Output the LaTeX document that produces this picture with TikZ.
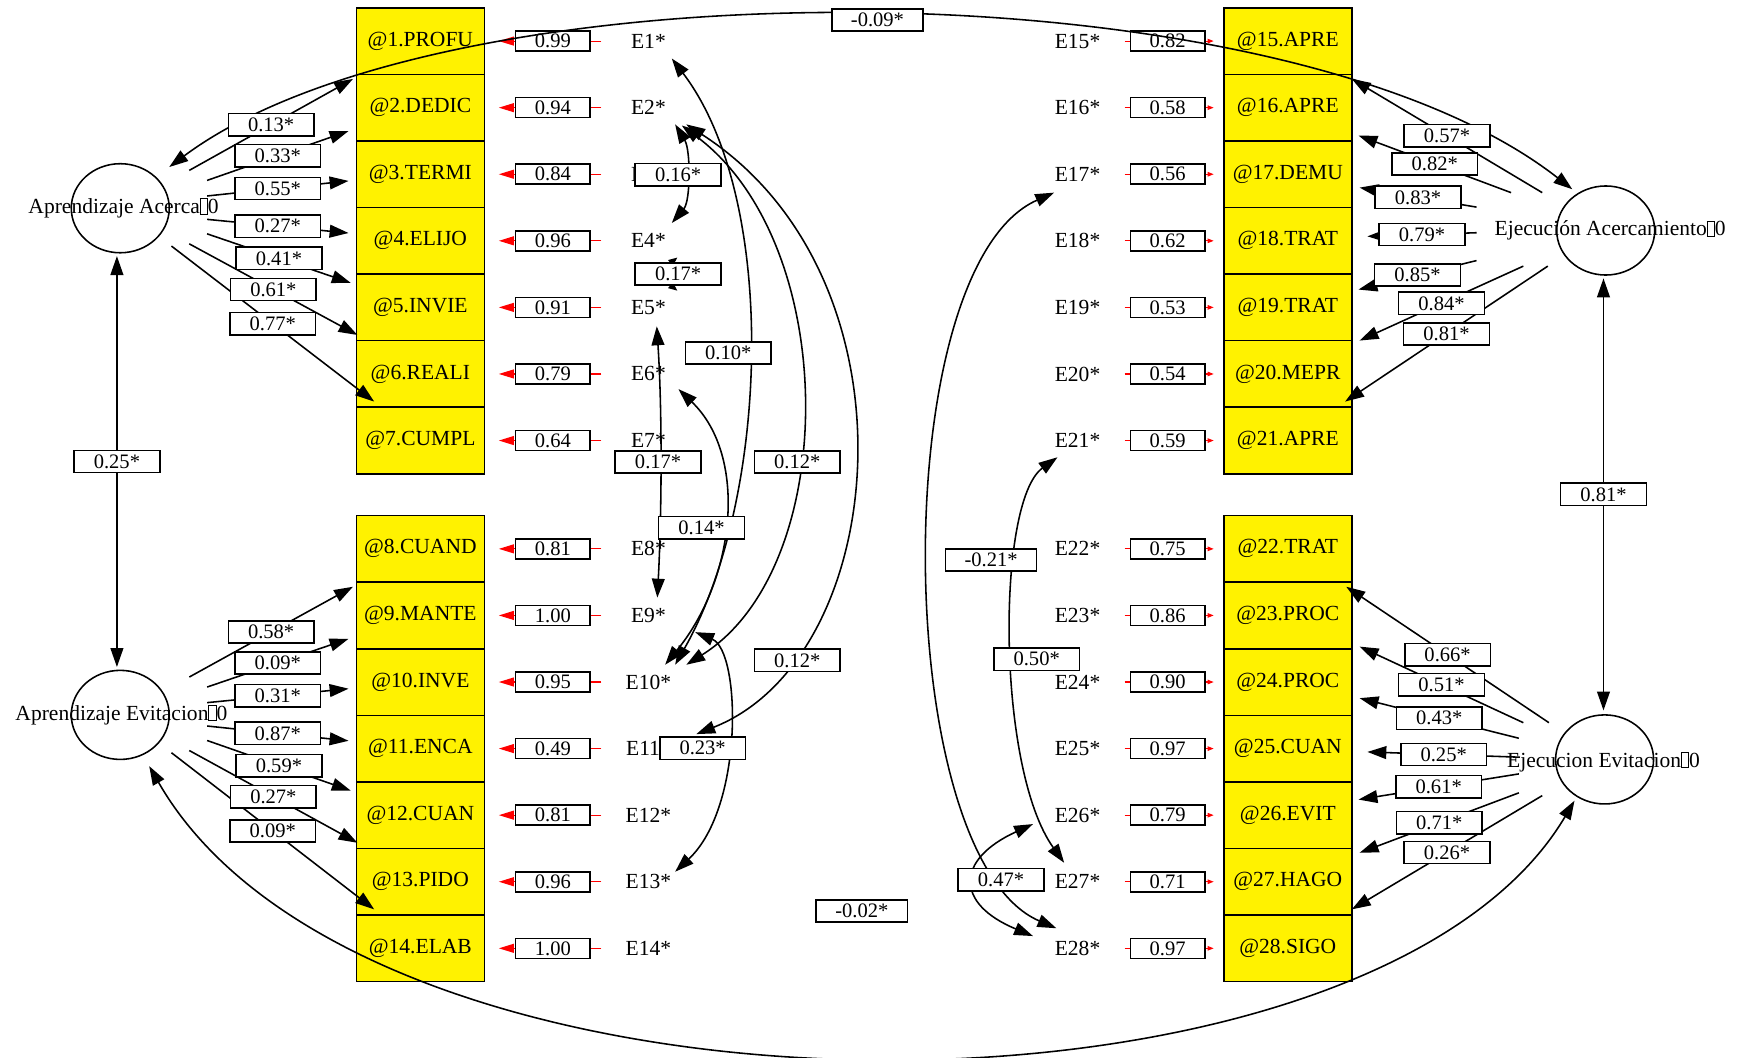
\documentclass[tikz,border=0pt]{standalone}
\usepackage{fontspec}
\setmainfont{Liberation Serif}
\usetikzlibrary{arrows.meta,positioning,shapes.geometric,calc}
\newcommand{\tofu}{{\fboxsep=0pt\fboxrule=0.4pt\fbox{\rule{0pt}{0.68em}\hspace{0.3em}}}}

\begin{document}
\begin{tikzpicture}[
    x=0.02cm, y=-0.02cm,
    every node/.style={font=\fontsize{11}{13}\selectfont},
    item/.style={draw, fill=yellow, line width=0.8pt, outer sep=0pt,
      minimum width=2.3cm, minimum height=1.196cm, inner sep=0pt},
    ename/.style={minimum width=1.68cm, inner sep=0pt},
    latent/.style={draw, ellipse, line width=0.8pt,
      minimum width=1.76cm, minimum height=1.6cm, inner sep=0pt},
    val/.style={draw=black, text=black, fill=white, line width=0.8pt,
      minimum width=1.34cm, minimum height=0.36cm, inner sep=0pt, font=\fontsize{10.5}{12}\selectfont},
    lbl/.style={draw, fill=white, line width=0.8pt,
      minimum width=1.54cm, minimum height=0.4cm, inner sep=0pt, font=\fontsize{10.5}{12}\selectfont},
    arr/.style={-{Triangle[length=3.4mm,width=2.3mm]}, line width=0.8pt},
    dbl/.style={{Triangle[length=3.4mm,width=2.3mm]}-{Triangle[length=3.4mm,width=2.3mm]}, line width=0.8pt},
    errl/.style={red, line width=0.6pt, -{Triangle[length=2.7mm,width=1.6mm]}, shorten >=0.26cm},
    errr/.style={red, line width=0.6pt, -{Triangle[length=1.1mm,width=0.8mm]}, shorten >=0.18cm}
  ]
    \useasboundingbox (0,0) rectangle (1568,950);

    \node[latent] (AA) at (108,187) {};
    \node (AAt) at (111,187) {Aprendizaje Acerca\tofu0};
    \node[latent] (AE) at (108,642) {};
    \node (AEt) at (109,642) {Aprendizaje Evitacion\tofu0};
    \node[latent] (EA) at (1442,207) {};
    \node (EAt) at (1446,207) {Ejecución Acercamiento\tofu0};
    \node[latent] (EE) at (1441,682) {};
    \node (EEt) at (1440,684) {Ejecucion Evitacion\tofu0};

    \node[item] (b1) at (377.5,36.9) {@1.PROFU};
    \foreach \t [count=\i from 2, remember=\i as \j (initially 1)] in
      {@2.DEDIC,@3.TERMI,@4.ELIJO,@5.INVIE,@6.REALI,@7.CUMPL}
      \node[item, below=0pt of b\j] (b\i) {\t};
    \node[item] (b8) at (377.5,492.9) {@8.CUAND};
    \foreach \t [count=\i from 9, remember=\i as \j (initially 8)] in
      {@9.MANTE,@10.INVE,@11.ENCA,@12.CUAN,@13.PIDO,@14.ELAB}
      \node[item, below=0pt of b\j] (b\i) {\t};
    \node[item] (b15) at (1156.5,36.9) {@15.APRE};
    \foreach \t [count=\i from 16, remember=\i as \j (initially 15)] in
      {@16.APRE,@17.DEMU,@18.TRAT,@19.TRAT,@20.MEPR,@21.APRE}
      \node[item, below=0pt of b\j] (b\i) {\t};
    \node[item] (b22) at (1156.5,492.9) {@22.TRAT};
    \foreach \t [count=\i from 23, remember=\i as \j (initially 22)] in
      {@23.PROC,@24.PROC,@25.CUAN,@26.EVIT,@27.HAGO,@28.SIGO}
      \node[item, below=0pt of b\j] (b\i) {\t};

    \foreach \i/\v in {1/0.99,2/0.94,3/0.84,4/0.96,5/0.91,6/0.79,7/0.64,
        8/0.81,9/1.00,10/0.95,11/0.49,12/0.81,13/0.96,14/1.00} {
      \node[ename, right=2.1cm of b\i] (e\i) {E\i*};
      \draw[errl] (e\i.west) -- node[val, pos=0.414] {\v} (b\i.east);
    }
    \foreach \i/\v in {15/0.82,16/0.58,17/0.56,18/0.62,19/0.53,20/0.54,21/0.59,
        22/0.75,23/0.86,24/0.90,25/0.97,26/0.79,27/0.71,28/0.97} {
      \node[ename, left=1.78cm of b\i] (e\i) {E\i*};
      \draw[errr] (e\i.east) -- node[val, pos=0.433] {\v} (b\i.west);
    }

    \foreach \n/\L/\s/\t in {1/AA/{62,-34}/{-3,34}, 2/AA/{78,-25}/{-7,21}, 3/AA/{78,-11}/{-7,6},
        4/AA/{78,10}/{-7,-7}, 5/AA/{78,23}/{-5,-22}, 6/AA/{62,32}/{1,-35}, 7/AA/{46,34}/{16,-35},
        8/AE/{62,-34}/{-3,34}, 9/AE/{78,-25}/{-7,21}, 10/AE/{78,-11}/{-7,6},
        11/AE/{78,10}/{-7,-7}, 12/AE/{78,23}/{-5,-22}, 13/AE/{62,32}/{1,-35}, 14/AE/{46,34}/{16,-35}}
      \draw[arr] ([shift={(\s)}]\L.center) coordinate (s\n) -- ([shift={(\t)}]b\n.west) coordinate (t\n);
    \foreach \n/\L/\s/\t in {15/EA/{-57,-34}/{0,34}, 16/EA/{-85,-34}/{6,25}, 17/EA/{-116,-21}/{7,12},
        18/EA/{-116,2}/{14,-4}, 19/EA/{-116,27}/{6,-16}, 20/EA/{-74,32}/{7,-30}, 21/EA/{-52,32}/{-6,-35},
        22/EE/{-50,-33}/{-5,34}, 23/EE/{-73,-33}/{7,28}, 24/EE/{-77,-19}/{7,14.5},
        25/EE/{-76,-2}/{14,3}, 26/EE/{-77,13}/{6,-14}, 27/EE/{-77,30}/{7,-26}, 28/EE/{-56,32.5}/{0,-35}}
      \draw[arr] ([shift={(\s)}]\L.center) coordinate (s\n) -- ([shift={(\t)}]b\n.east) coordinate (t\n);

    \draw[dbl] ([shift={(-3,43)}]AA.center) -- node[lbl] (v1) {0.25*} ([shift={(-3,-43)}]AE.center);
    \draw[dbl] ([shift={(-2,43)}]EA.center) -- node[lbl] (v2) {0.81*} ([shift={(-1,-44)}]EE.center);
    \draw[dbl] ([shift={(44,-37)}]AA.center) .. controls +(248,-185) and +(-262,-205) .. ([shift={(-30,-37)}]EA.center);
    \draw[dbl] ([shift={(26,46)}]AE.center) .. controls +(196,342) and +(-184,311) .. ([shift={(-27,37)}]EE.center);

    \draw[dbl] ([shift={(24,15)}]e2.center) .. controls +(14,23) and +(17,-20) .. ([shift={(21,-16)}]e4.center);
    \draw[{Triangle[length=1.6mm,width=1.3mm]}-{Triangle[length=1.6mm,width=1.3mm]}, line width=0.8pt]
      ([shift={(26,15)}]e4.center) .. controls +(-10,8) and +(-10,-8) .. ([shift={(26,-15)}]e5.center);
    \draw[dbl] ([shift={(21,15.6)}]e1.center) .. controls +(97,127.5) and +(84,-147) .. ([shift={(24,-15.5)}]e10.center);
    \draw[dbl] ([shift={(30,16)}]e2.center) .. controls +(143,107) and +(139,-87) .. ([shift={(34,-15.5)}]e10.center);
    \draw[dbl] ([shift={(34,15)}]e2.center) .. controls +(214,138) and +(175,-69) .. ([shift={(43,-13)}]e11.center);
    \draw[dbl] ([shift={(27,13.6)}]e6.center) .. controls +(63,60.5) and +(63,-77) .. ([shift={(15,-15.5)}]e10.center);
    \draw[dbl] ([shift={(7.5,17)}]e5.center) .. controls +(5,77) and +(4,-77) .. ([shift={(8,-16)}]e9.center);
    \draw[dbl] ([shift={(42,15)}]e9.center) .. controls +(41,17) and +(62,-58) .. ([shift={(24,-9)}]e13.center);
    \draw[dbl] ([shift={(-21,16.5)}]e17.center) .. controls +(-152,67) and +(-149,-64) .. ([shift={(-19,-18)}]e28.center);
    \draw[dbl] ([shift={(-18,15)}]e21.center) .. controls +(-55,39.5) and +(-61,-85) .. ([shift={(-12,-17)}]e27.center);
    \draw[dbl] ([shift={(-40,8)}]e26.center) .. controls +(-70,32) and +(-70,-29) .. ([shift={(-40,-11)}]e28.center);

    \foreach \n/\v in {1/0.13*,2/0.33*,3/0.55*,4/0.27*,5/0.41*,6/0.61*,7/0.77*,
        8/0.58*,9/0.09*,10/0.31*,11/0.87*,12/0.59*,13/0.27*,14/0.09*,
        15/0.57*,16/0.82*,17/0.83*,18/0.79*,19/0.85*,20/0.84*,21/0.81*,
        22/0.66*,23/0.51*,24/0.43*,25/0.25*,26/0.61*,27/0.71*,28/0.26*}
      \node[lbl] (l\n) at ($(s\n)!0.5!(t\n)$) {\v};

    \node[lbl] (c1) at (609,157) {0.16*};
    \node[lbl] (c2) at (609,246) {0.17*};
    \node[lbl] (c3) at (654,317) {0.10*};
    \node[lbl] (c4) at (716,415) {0.12*};
    \node[lbl] (c5) at (591,415) {0.17*};
    \node[lbl] (c6) at (630,474) {0.14*};
    \node[lbl] (c7) at (716,593) {0.12*};
    \node[lbl] (c8) at (631,672) {0.23*};
    \node[lbl, minimum width=1.64cm] (c9) at (890,503) {-0.21*};
    \node[lbl] (c10) at (931,592) {0.50*};
    \node[lbl] (c11) at (899,790) {0.47*};
    \node[lbl, minimum width=1.64cm] (c12) at (788,18) {-0.09*};
    \node[lbl, minimum width=1.64cm] (c13) at (774,818) {-0.02*};
  \end{tikzpicture}
\end{document}
